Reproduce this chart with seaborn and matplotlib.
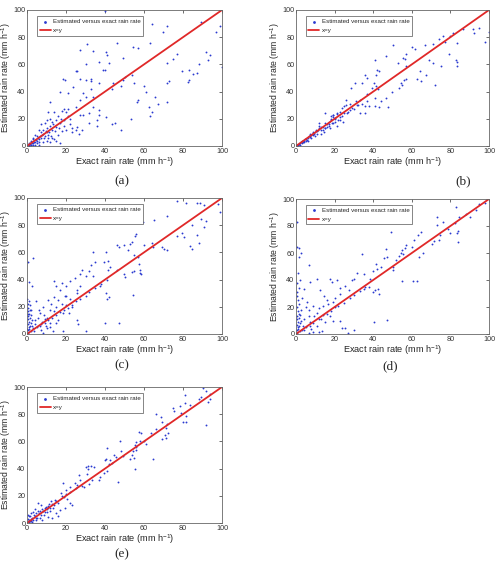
import matplotlib
matplotlib.use("Agg")
import matplotlib.pyplot as plt
import seaborn as sns
import pandas as pd

# estimated (exact, estimated) rain rate pairs
pts_a = [
    (40, 99), (72, 88.5), (89, 91), (99, 88), (64, 89.5), (69.5, 84), (97, 84), (31, 75), (46, 76), (63, 76),
    (54.6, 73), (57, 72), (27, 70.6), (40.6, 69), (34, 70), (41, 67), (49, 65), (77, 68), (71.7, 61), (75, 64),
    (88, 60), (92, 69), (94, 67), (93, 63), (37, 62), (42, 61), (40, 56), (39, 55.6), (25.5, 55), (25, 55),
    (18.5, 49), (19.7, 48.5), (27, 49), (30, 48.5), (32.6, 49), (33, 48), (23.7, 43.6), (28.8, 38.7), (33, 41.7),
    (37, 46), (43.6, 41.7), (44, 46), (48, 44), (49, 48.5), (50, 51), (54, 52), (55, 46), (57, 34), (56.6, 32.6),
    (60, 44), (61, 40), (62.6, 29), (65.5, 36), (67, 31), (72, 32.6), (72, 46), (72.7, 47.5), (79.6, 55), (83, 56),
    (83, 48.5), (82.8, 47), (85, 53), (87, 54), (99.8, 58), (63, 22), (64, 25), (53.5, 19.6), (48, 12), (45, 17),
    (43.4, 16), (40.5, 21), (36, 19), (35.7, 14.7), (31.6, 16.7), (31.6, 24), (36.7, 22.8), (37, 26.5), (34, 29),
    (34, 36), (30, 36), (27, 34), (25, 29), (27, 23), (28.8, 23), (25, 12), (25.7, 14), (26.6, 9), (28, 12),
    (23, 13.5), (21, 39), (17, 40), (12, 32), (30, 60),
    (1, 1), (2, 1), (1, 2), (3, 2), (2, 3), (4, 3), (3, 5), (5, 4), (6, 5), (5, 7), (7, 6), (8, 9), (6, 3), (4, 1),
    (9, 7), (10, 10), (11, 8), (12, 15), (13, 12), (10, 19), (12, 20), (13, 18), (15, 14), (16, 22), (17, 17),
    (18, 26), (19, 27), (20, 25), (21, 22), (22, 20), (14, 25), (9, 17), (8, 12), (7, 10), (11, 6), (13, 6),
    (14, 5), (16, 8), (18, 11), (20, 12), (19, 15), (22, 16), (23, 10), (15, 4), (5, 2), (3, 0.5), (2, 0.5),
    (1, 0.3), (6, 1), (8, 3), (10, 4), (12, 3), (6, 12), (4, 8), (3, 6), (2, 4), (7, 16), (11, 25), (17, 2),
    (0.5, 0.5), (1.5, 1.2), (2.5, 2), (3.5, 3), (4.5, 4.5), (5.5, 6), (6.5, 7), (7.5, 8), (8.5, 6), (9.5, 11),
    (10.5, 13), (11.5, 10), (12.5, 7), (14.5, 11), (16.5, 13), (17.5, 20), (19, 19), (21, 27), (15, 19), (13.5, 16),
]

pts_b = [
    (94.7, 87), (92, 83), (98, 76.5), (100, 84), (86.7, 86), (81.4, 83), (80, 81), (91.7, 86), (76, 81), (74, 78.7),
    (77, 76.7), (83.5, 75.7), (71, 75), (67, 74.5), (79.5, 68), (82.8, 63), (83.5, 62), (83.5, 59), (75, 59),
    (69, 63), (71, 61), (72, 45), (67.6, 52), (64.7, 47.5), (64, 55), (62.5, 49), (61.6, 71), (60, 73), (57, 68),
    (56.6, 63.7), (53, 61), (55.4, 64.7), (57, 59), (50, 74.5), (46.6, 66), (40.8, 63), (42, 56), (43, 55),
    (41.5, 52), (40.4, 46.6), (39.6, 43), (41.5, 44), (42.7, 42), (37, 50), (35.8, 52), (34.4, 46.6), (30.6, 46.6),
    (28.4, 43), (57, 49.5), (56, 48.5), (54.4, 46.6), (55, 45), (53.5, 43), (49.7, 40), (46.6, 35), (47.5, 29),
    (44, 33), (40.8, 35), (40.8, 29.4), (42.8, 28.4), (36.8, 38), (37, 33), (35.5, 29.4), (35.5, 24.5), (33, 24.5),
    (38, 29.4), (31.5, 30), (28, 26.5), (26, 34), (25, 29.4), (26.3, 24), (23, 21.5), (23, 19), (21.5, 23.5),
    (20, 20), (18.6, 16.7), (17, 16), (17.7, 13), (15, 13), (14.3, 10), (13, 9), (15, 24), (19.4, 22.8), (21, 15),
    (24.6, 18),
    (1, 1), (2, 2), (3, 2.5), (4, 4), (5, 5), (6, 6), (7, 6.5), (8, 8), (9, 8), (10, 10), (11, 11), (12, 13),
    (11, 9), (12, 15), (13, 12), (14, 14), (15, 13), (16, 16), (17, 18), (18, 19), (19, 21), (20, 20.5), (3, 3.5),
    (5, 3.6), (7, 8.5), (9, 10), (10, 7), (2, 1), (1, 0.5), (4, 3), (6, 4), (8, 6), (12, 17), (15, 17), (18, 22),
    (19, 23), (20, 18), (22, 19), (24, 22), (25, 24), (27, 25), (26, 30), (29, 28), (30, 27), (24, 28), (23, 25),
    (21, 24), (28, 31), (31, 33), (33, 34), (32, 30), (34, 31), (0.5, 0.3), (1.5, 1.8), (2.5, 3), (3.5, 3),
    (4.5, 5), (5.5, 4.5), (6.5, 7), (7.5, 7), (8.5, 9), (9.5, 9), (10.5, 12), (11.5, 12), (13, 14), (14, 12),
    (16, 14), (17, 15), (18, 20), (19, 17),
]

pts_c = [
    (77, 98), (81.6, 96), (87, 96), (88.6, 96), (91, 95), (98, 95.6), (99, 90), (89, 84.5), (92, 83), (91, 78.7),
    (84.6, 80), (71.7, 87), (65, 83.6), (59.7, 82), (79.4, 74), (80.6, 71), (87, 73), (88, 67), (83.7, 65),
    (84.4, 62.5), (76.7, 72), (69, 64), (70, 62.5), (72, 61.5), (64.5, 64), (64, 67), (60, 65.4), (56, 73.8),
    (55.4, 71.8), (54, 68), (53, 66), (49.7, 65.4), (46, 65.4), (47, 64), (51.8, 62), (55, 58), (56.8, 56.6),
    (57.6, 51.7), (58, 47), (58, 45), (58.5, 44), (55, 46.6), (54, 45.6), (54.5, 29), (49.7, 44), (50, 42),
    (46, 46.8), (42.5, 49), (41.7, 47), (40.5, 60), (33.8, 60), (39.5, 53), (41.5, 54), (41, 40), (40.5, 30),
    (37.4, 35.5), (41, 25.7), (42, 27), (39.8, 8), (47, 8), (35, 52.7), (33, 50.7), (32, 46), (34, 43),
    (30.5, 42.4), (28.3, 47.3), (27, 44), (24.5, 41), (22, 38.7), (27, 35.5), (25.4, 32.6), (20, 35), (17.7, 37.5),
    (14, 38.7), (14.7, 35), (10.8, 24.7), (3, 56), (0.7, 53), (0.5, 22), (15, 8), (21.6, 15.4), (25.4, 10.5),
    (26, 7), (30, 2), (18.5, 2), (13.4, 2), (8, 1), (25.4, 30), (22, 26), (19.4, 27.7), (16.8, 32.6), (15, 20),
    (13.7, 16.7), (11.7, 18), (8.2, 20), (6.5, 15.4), (4.8, 24), (2.2, 18), (18.5, 15.4), (20, 21.5), (23, 20),
    (16, 10.5), (11.7, 8), (10, 4.4), (6.5, 5.6), (4, 10.5), (3, 4.4), (9, 11),
    (5, 5), (7, 7), (9, 8), (11, 10), (13, 12), (15, 14), (17, 16), (19, 18), (21, 19), (23, 21), (25, 24),
    (27, 26), (30, 28), (32, 31), (35, 34), (38, 37),
    (0.3, 1), (0.5, 3), (0.8, 5), (0.4, 7), (1, 9), (0.6, 11), (0.3, 13), (1.2, 15), (0.7, 17), (0.4, 19),
    (1.5, 21), (0.9, 24), (0.2, 26), (1.8, 2), (1.4, 6), (2, 8), (1.6, 12), (2.2, 14), (1.1, 3.5), (2.5, 10),
    (0.5, 15), (1.3, 18), (2.8, 6), (0.2, 4), (3.5, 2), (4.2, 7), (5.5, 12), (6, 18), (7, 3), (7.5, 9), (8.5, 14),
    (9.5, 6), (10.5, 12), (12, 5), (12.5, 22), (14, 27), (16, 25), (18, 22), (20, 28), (2.5, 35), (0.8, 38),
]

pts_d = [
    (83, 94), (95, 96), (97.8, 96.8), (93.5, 92), (88, 88.7), (90, 87), (84.7, 87), (82.6, 82.5), (84, 76.6),
    (83.4, 74.6), (84, 68), (76, 83), (73, 87), (72.8, 81), (79, 78), (80, 74.6), (74.5, 73), (74, 70),
    (71.6, 68.7), (70.7, 67), (65, 75.6), (63, 73), (60, 64.8), (61, 70), (66, 60), (63.7, 57.4), (57, 66),
    (56.5, 63.5), (55, 62), (54.6, 60), (55.6, 59), (53.4, 58), (51.6, 55), (50.4, 49.5), (50, 47.5), (49, 75.6),
    (46.5, 62.8), (47, 57.4), (45.4, 56), (43.9, 49.5), (41.5, 51.5), (41.8, 48), (40, 47), (38.4, 41), (41, 32.8),
    (42.3, 33), (42.8, 30), (40, 30.8), (40.6, 8.6), (47, 10.6), (60.8, 39), (62.5, 39), (54.7, 39), (38, 34.7),
    (35, 33), (34, 59), (35.3, 44.6), (31.5, 45), (29.8, 41), (29, 40), (27.4, 32.3), (25.5, 35.7), (23, 34),
    (23, 30), (21.5, 40), (17.7, 41), (18.4, 38.7), (20, 27), (16.4, 22.4), (14.3, 27.8), (12.6, 32.8),
    (10.8, 41), (7, 38.7), (9, 20.4), (6.5, 17.5), (6.5, 13), (10.8, 15.5), (13, 11), (15, 8.6), (17.4, 13),
    (19.4, 9.8), (23, 9.4), (23.7, 4.4), (25.6, 4.4), (27, 0.7), (29.8, 3.2), (13.4, 2), (11.7, 1.2), (9, 1.2),
    (6.5, 0.7), (4, 3.2), (0.5, 82.8), (0.5, 64.8), (1.4, 63.5), (1.4, 57.4), (2.6, 60), (6.5, 51), (0.9, 45),
    (3, 3), (5, 5), (7, 6), (9, 8), (12, 11), (14, 14), (16, 15), (18, 17), (20, 20), (22, 21), (25, 23), (28, 27),
    (30, 29), (33, 32), (36, 35),
    (0.3, 1), (0.6, 3), (0.9, 5), (0.4, 7), (1.1, 9), (0.7, 11), (0.3, 13), (1.3, 15), (0.8, 17), (0.4, 20),
    (1.6, 22), (1, 25), (0.3, 28), (1.9, 2), (1.5, 6), (2.1, 8), (1.7, 12), (2.3, 14), (1.2, 3.5), (2.6, 10),
    (0.5, 31), (1.4, 34), (0.7, 38), (2.8, 18), (3.5, 6), (4.2, 11), (5, 20), (5.5, 24), (7.5, 9), (8, 4),
    (9.5, 13), (11, 6), (12, 19), (14, 21), (16, 25), (19, 24), (3, 27), (4, 33), (2, 40),
]

pts_e = [
    (90, 99), (91.6, 97), (93.7, 95), (81, 94), (89, 93), (88, 91), (94, 91), (93, 89), (83.4, 87), (80.8, 88),
    (78.4, 86), (75, 84.6), (75.4, 82), (79, 81), (81.7, 79), (80, 74.4), (81.7, 74), (92, 72), (66, 80.5),
    (68.7, 77.6), (69, 74.4), (71.8, 73), (71.5, 69.5), (72.5, 66), (70.6, 64.6), (71.5, 62.7), (69.4, 61.7),
    (63.8, 66), (66, 68.8), (64.6, 46.8), (58.5, 66), (57.4, 67), (57.8, 60), (59.8, 60), (61, 58), (56, 59.8),
    (55.4, 57), (56, 55.6), (54.4, 53), (56, 53.7), (53.7, 50), (55, 48), (55.4, 39.5), (53, 46.8), (48.4, 53),
    (47.5, 60), (44.4, 50), (45.8, 48.3), (46.8, 30), (49.2, 49.3), (41, 55), (39.8, 46.3), (40.7, 47),
    (42.4, 46.3), (41.9, 43.4), (43.4, 44.4), (41, 38.5), (39.3, 36.6), (37.3, 34), (36.8, 31.7), (34.2, 41.5),
    (33, 42), (33.5, 31.7), (31.3, 39.5), (30.8, 36), (32, 29), (29, 26.8), (27, 31.7), (26.5, 35.4), (25.8, 28),
    (24.4, 29.3), (22.2, 26.8), (20, 24.4), (18.5, 29.3), (17.6, 22), (18.8, 19), (20.5, 17.8), (21.9, 14.6),
    (23.2, 13), (19.3, 11), (17, 9.3), (14.7, 7.3), (16, 5.4), (13, 3.7), (10.8, 4.4), (14.2, 17), (12.5, 16),
    (10.8, 12.7), (9, 11), (6.8, 8.5), (5.6, 15), (7.4, 13.4), (4.8, 7.3), (4.4, 3.7), (7.9, 2.4), (1.4, 1.2),
    (2.2, 2.4), (0.5, 6), (1, 4.9),
    (1, 1), (2, 3), (3, 2), (4, 5), (5, 4), (6, 7), (7, 6), (8, 9), (9, 8), (10, 10), (11, 12), (12, 11),
    (13, 14), (14, 13), (15, 16), (16, 15), (18, 20), (20, 21), (22, 23), (25, 26), (28, 27), (30, 41), (31.5, 42),
    (1.5, 5), (2, 7), (0.5, 3), (3, 8), (4, 10), (2.5, 0.5), (0.8, 2), (1.8, 1.5), (2.8, 4), (3.5, 6), (4.5, 2),
    (5.5, 9), (6.5, 4), (7.5, 10), (8.5, 6), (9.5, 12), (10.5, 8), (11.5, 14), (12, 9), (13.5, 11),
]

panels = ["(a)", "(b)", "(c)", "(d)", "(e)"]
all_pts = [pts_a, pts_b, pts_c, pts_d, pts_e]
line_x = [0, 100]
line_y = [0, 100]
ticks = [0, 20, 40, 60, 80, 100]

sns.set_style("white")
plt.rcParams["font.family"] = ["Liberation Sans", "DejaVu Sans"]
plt.rcParams["mathtext.fontset"] = "custom"
plt.rcParams["mathtext.rm"] = "Liberation Sans"

fig = plt.figure(figsize=(4.95, 5.67), dpi=100)
W, H = 495, 567
# axes boxes in pixels: left, top, right, bottom
boxes = [(27, 10, 222, 146), (296, 10, 489, 146),
         (27, 198, 222, 334), (296, 199, 489, 334),
         (27, 387, 222, 523)]
label_pos = [(122, 181), (463, 181), (122, 365), (390, 366), (122, 554)]

for pts, box, name, lp in zip(all_pts, boxes, panels, label_pos):
    l, t, r, b = box
    ax = fig.add_axes([l / W, 1 - b / H, (r - l) / W, (b - t) / H])
    df = pd.DataFrame(pts, columns=["exact", "est"])
    sns.scatterplot(data=df, x="exact", y="est", ax=ax, s=1.8, color="#2a3ad0",
                    linewidth=0, marker="o", label="Estimated versus exact rain rate")
    sns.lineplot(x=line_x, y=line_y, ax=ax, color="#e02828", linewidth=1.3, label="x=y")
    ax.set_xlim(0, 100)
    ax.set_ylim(0, 100)
    ax.set_xticks(ticks)
    ax.set_yticks(ticks)
    ax.tick_params(direction="in", length=2, width=0.5, labelsize=5.2, pad=1.2,
                   top=True, right=True, colors="#333333")
    for sp in ax.spines.values():
        sp.set_linewidth(0.6)
        sp.set_color("#666666")
    ax.set_xlabel("Exact rain rate (mm h$^{\\mathrm{-1}}$)", fontsize=6.6, labelpad=0.5)
    ax.set_ylabel("Estimated rain rate (mm h$^{\\mathrm{-1}}$)", fontsize=6.2, labelpad=0.5)
    leg = ax.legend(loc="upper left", bbox_to_anchor=(0.05, 0.955), fontsize=4.4,
                    fancybox=False, framealpha=1, edgecolor="#555555", borderpad=0.45,
                    handlelength=1.8, handletextpad=0.4, labelspacing=0.55, markerscale=1.5,
                    borderaxespad=0)
    leg.get_frame().set_linewidth(0.5)
    fig.text(lp[0] / W, 1 - lp[1] / H, name, ha="center", va="center",
             fontsize=9.5, family=["Liberation Serif", "DejaVu Serif"])

fig.savefig("out.png", dpi=100)
